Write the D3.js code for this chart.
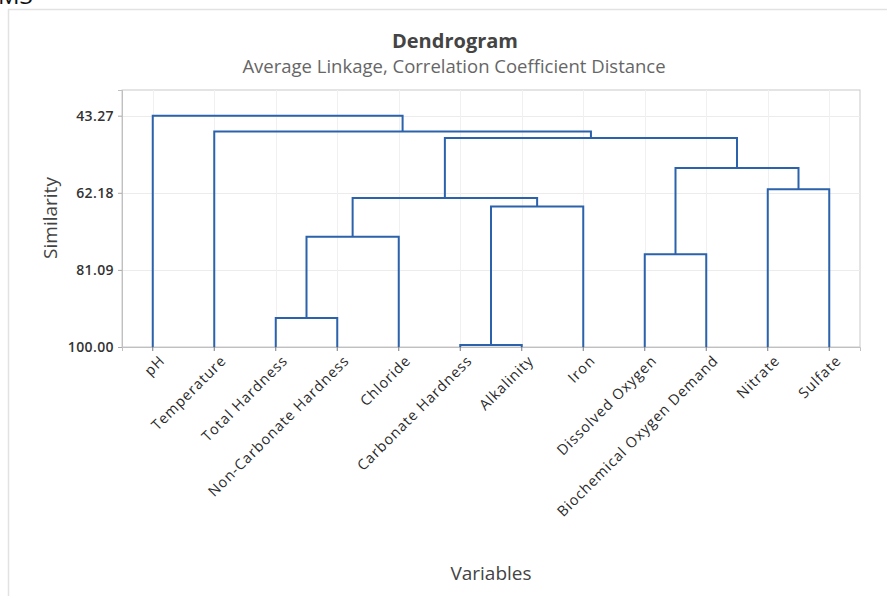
<!DOCTYPE html>
<html>
<head>
<meta charset="utf-8">
<script src="https://cdn.jsdelivr.net/npm/d3@7"></script>
<style>
  html, body { margin: 0; padding: 0; background: #fff; }
  svg { display: block; }
  text { font-family: "Open Sans", "Noto Sans", sans-serif; }
</style>
</head>
<body>
<svg id="chart" width="887" height="596"></svg>
<script>
// ---- data ----
const variables = ["pH", "Temperature", "Total Hardness", "Non-Carbonate Hardness", "Chloride",
  "Carbonate Hardness", "Alkalinity", "Iron", "Dissolved Oxygen", "Biochemical Oxygen Demand",
  "Nitrate", "Sulfate"];
const yTicks = [43.27, 62.18, 81.09, 100.00];
// merge steps: ids 0..11 are leaves, 12.. are clusters created in order
const mergeA = [5, 2, 8, 13, 12, 15, 10, 14, 17, 1, 0];
const mergeB = [6, 3, 9, 4, 7, 16, 11, 18, 19, 20, 21];
const mergeSimilarity = [99.5, 92.87, 77.23, 72.98, 65.53, 63.48, 61.3, 56.1, 48.75, 47.12, 43.27];

// ---- layout ----
const svg = d3.select("#chart");
const W = 887, H = 596;
const plot = { left: 122, right: 860, top: 90, bottom: 347 };
const lineColor = "#2b62ab";

// background panel
svg.append("rect").attr("x", 0).attr("y", 0).attr("width", W).attr("height", H).attr("fill", "#fff");
svg.append("line").attr("x1", 8).attr("x2", W).attr("y1", 9.5).attr("y2", 9.5).attr("stroke", "#e2e2e2").attr("stroke-width", 1.5);
svg.append("line").attr("x1", 8.5).attr("x2", 8.5).attr("y1", 9).attr("y2", H).attr("stroke", "#e2e2e2").attr("stroke-width", 1.5);
svg.append("text").attr("x", -2).attr("y", 4).attr("font-family", "Liberation Serif")
  .attr("font-size", 24).attr("fill", "#111").text("M3");

const x = d3.scaleBand().domain(variables).range([plot.left, plot.right]).padding(0);
const yTop = yTicks[0] - (yTicks[1] - yTicks[0]) / 3;
const y = d3.scaleLinear().domain([100, yTop]).range([plot.bottom, plot.top]);

// plot area
svg.append("rect").attr("x", plot.left).attr("y", plot.top)
  .attr("width", plot.right - plot.left).attr("height", plot.bottom - plot.top)
  .attr("fill", "#fff").attr("stroke", "#c9c9c9").attr("stroke-width", 1);

// gridlines
const grid = svg.append("g");
grid.selectAll("line.h").data(yTicks.slice(0, 3)).join("line")
  .attr("x1", plot.left).attr("x2", plot.right)
  .attr("y1", d => Math.round(y(d)) + 0.5).attr("y2", d => Math.round(y(d)) + 0.5)
  .attr("stroke", "#ececec").attr("stroke-width", 1);
grid.selectAll("line.v").data(variables).join("line")
  .attr("x1", d => Math.round(x(d) + x.bandwidth() / 2) + 0.5)
  .attr("x2", d => Math.round(x(d) + x.bandwidth() / 2) + 0.5)
  .attr("y1", plot.top).attr("y2", plot.bottom)
  .attr("stroke", "#f0f0f0").attr("stroke-width", 1);

// axes
const yAxis = d3.axisLeft(y).tickValues(yTicks).tickFormat(d3.format(".2f")).tickSize(4).tickPadding(4);
const gy = svg.append("g").attr("transform", `translate(${plot.left},0)`).call(yAxis);
gy.select(".domain").attr("stroke", "#c0c0c0");
gy.selectAll(".tick line").attr("stroke", "#aaa");
gy.selectAll(".tick text").attr("font-size", 14).attr("font-weight", 600).attr("fill", "#333")
  .attr("letter-spacing", 0.4).attr("font-family", "Open Sans");

const xAxis = d3.axisBottom(x).tickSize(4).tickPadding(6);
const gx = svg.append("g").attr("transform", `translate(0,${plot.bottom})`).call(xAxis);
gx.select(".domain").attr("stroke", "#c0c0c0");
gx.selectAll(".tick line").attr("stroke", "#777");
gx.selectAll(".tick text")
  .attr("font-size", 14.5).attr("fill", "#2a2a2a").attr("font-family", "Open Sans")
  .attr("letter-spacing", 0.9)
  .attr("text-anchor", "end")
  .attr("dy", "0.35em")
  .attr("transform", "translate(5,4) rotate(-45)")
  .attr("x", -2).attr("y", 8);

// ---- dendrogram ----
const nodes = variables.map((name, i) => ({ x: x(name) + x.bandwidth() / 2, s: 100 }));
const links = [];
mergeA.forEach((a, i) => {
  const b = mergeB[i];
  const s = mergeSimilarity[i];
  const na = nodes[a], nb = nodes[b];
  links.push({ x1: na.x, s1: na.s, x2: nb.x, s2: nb.s, s });
  nodes.push({ x: (na.x + nb.x) / 2, s });
});
const path = d => `M${d.x1},${y(d.s1)}V${y(d.s)}H${d.x2}V${y(d.s2)}`;
svg.append("g").selectAll("path").data(links).join("path")
  .attr("d", path).attr("fill", "none").attr("stroke", lineColor)
  .attr("stroke-width", 2).attr("stroke-linejoin", "miter");

// ---- titles ----
svg.append("text").attr("x", 455).attr("y", 48).attr("text-anchor", "middle")
  .attr("font-size", 20).attr("font-weight", 700).attr("fill", "#444").text("Dendrogram");
svg.append("text").attr("x", 454).attr("y", 73).attr("text-anchor", "middle")
  .attr("font-size", 18.5).attr("fill", "#666").text("Average Linkage, Correlation Coefficient Distance");
svg.append("text").attr("transform", `translate(57,218) rotate(-90)`)
  .attr("text-anchor", "middle").attr("font-size", 19).attr("fill", "#444").text("Similarity");
svg.append("text").attr("x", 491).attr("y", 580).attr("text-anchor", "middle")
  .attr("font-size", 19).attr("fill", "#444").text("Variables");
</script>
</body>
</html>
